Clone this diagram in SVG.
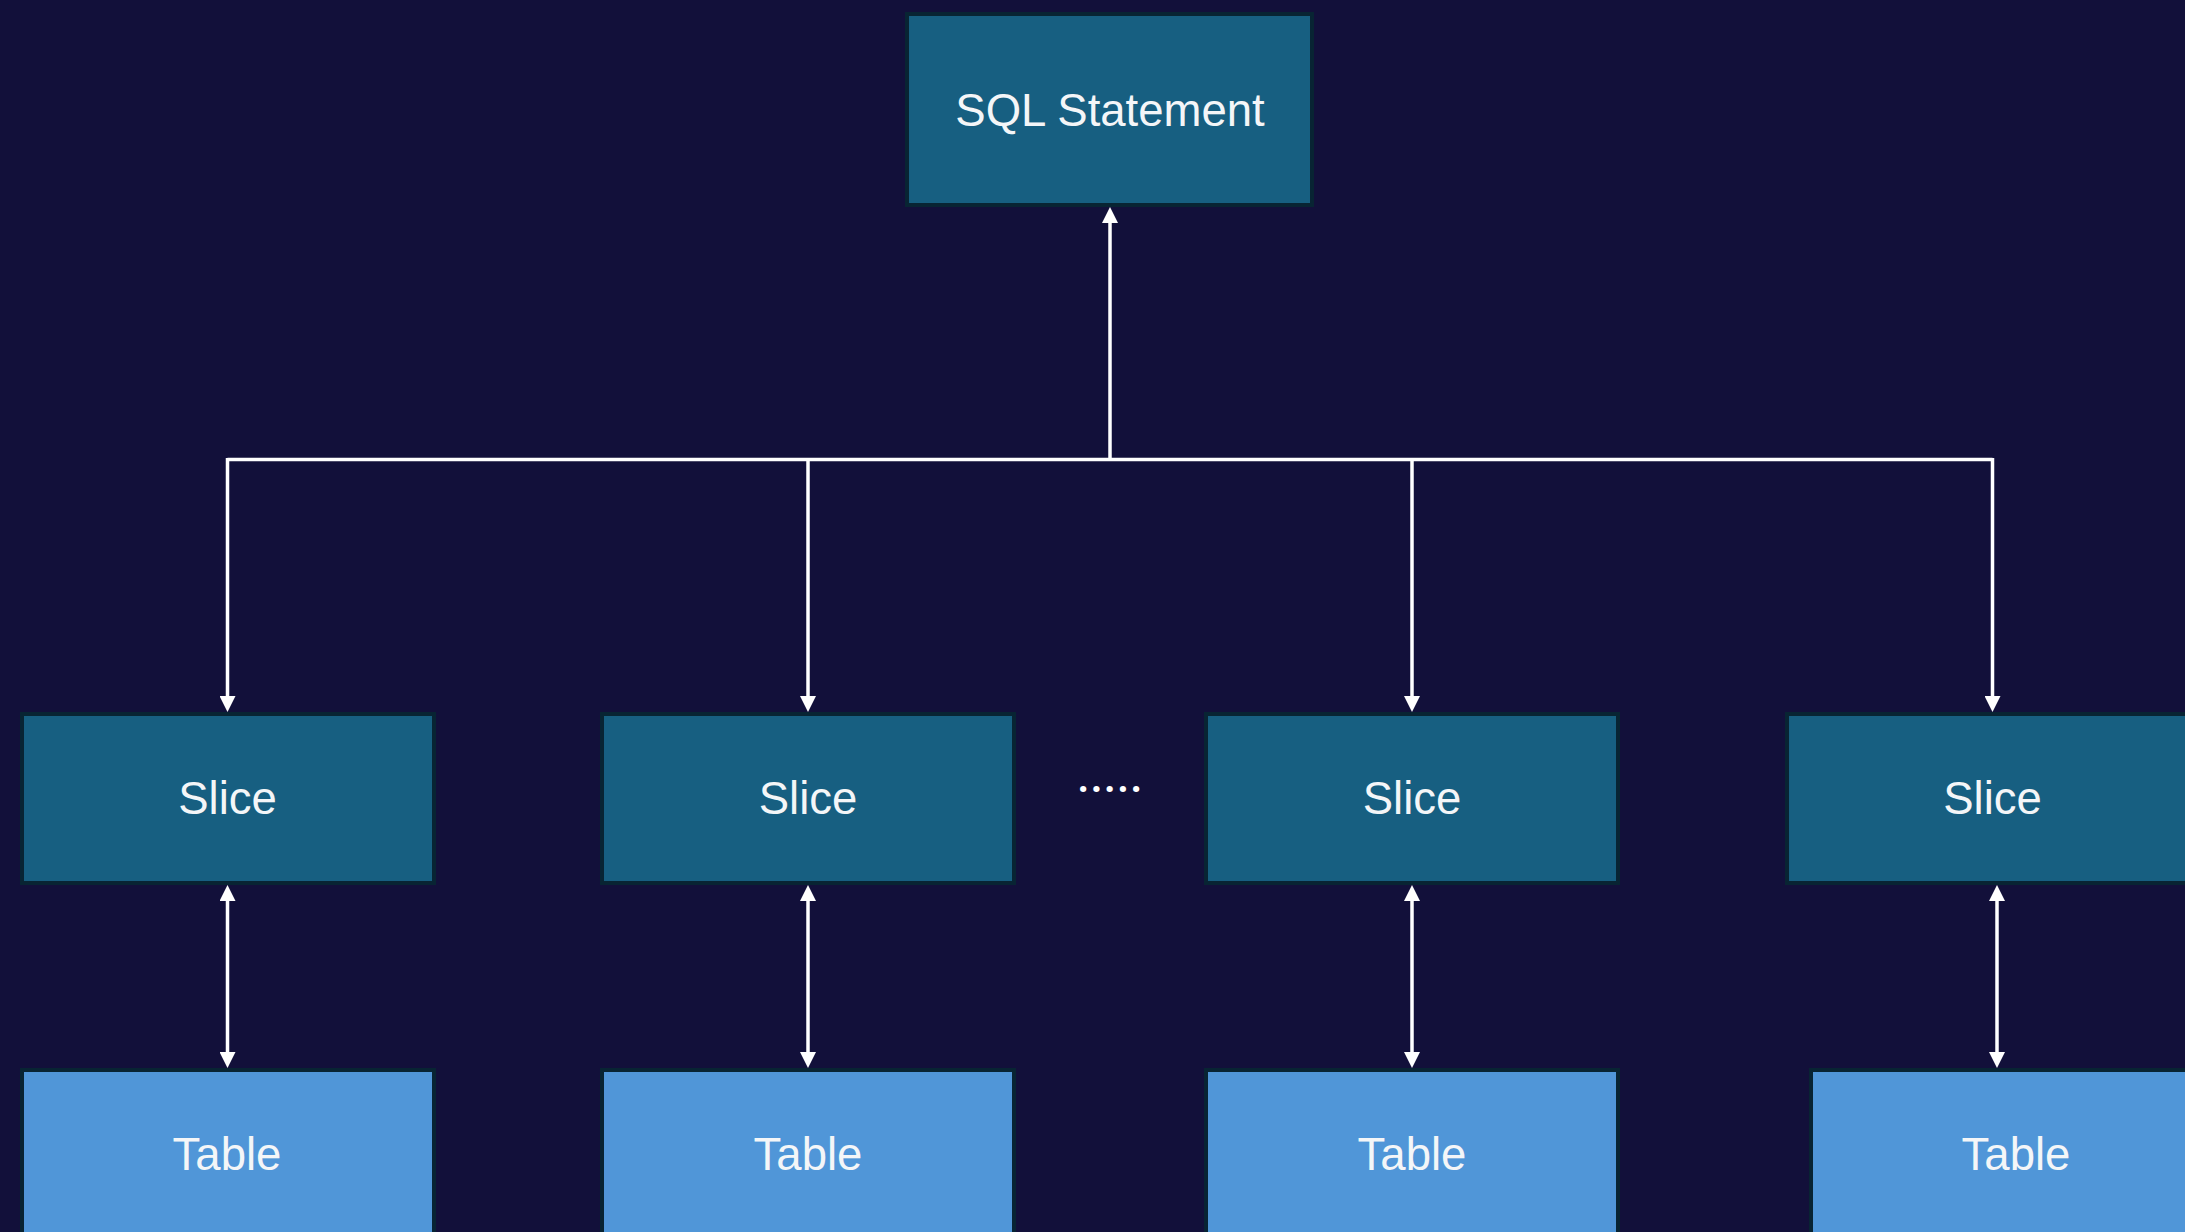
<svg xmlns="http://www.w3.org/2000/svg" width="2185" height="1232" viewBox="0 0 2185 1232">
  <style>
    .bg { fill: #12103A; }
    .slice { fill: #175F81; stroke: #082433; stroke-width: 4; }
    .table { fill: #5096D8; stroke: #082433; stroke-width: 4; }
    .sql { fill: #175F81; stroke: #082433; stroke-width: 4; }
    .label { font-family: "Liberation Sans", Arial, sans-serif; font-size: 45.5px; fill: #F4F6F8; text-anchor: middle; }
    .conn { stroke: #FFFFFF; stroke-width: 3.5; fill: none; }
    .dots { font-family: "Open Sans", "Liberation Sans", sans-serif; font-size: 36px; font-weight: bold; fill: #FFFFFF; letter-spacing: 3px; }
  </style>
  <defs>
    <marker id="arrow" markerUnits="userSpaceOnUse" markerWidth="16" markerHeight="16" refX="8" refY="8" orient="auto-start-reverse">
      <path d="M0,0 L16,8 L0,16 z" fill="#FFFFFF"/>
    </marker>
  </defs>
  <rect class="bg" x="0" y="0" width="2185" height="1232"/>

  <g id="connectors">
    <line class="conn" x1="227.5" y1="459.5" x2="1992.5" y2="459.5"/>
    <line class="conn" x1="1110" y1="461" x2="1110" y2="215" marker-end="url(#arrow)"/>
    <line class="conn" x1="227.5" y1="458" x2="227.5" y2="704" marker-end="url(#arrow)"/>
    <line class="conn" x1="808" y1="458" x2="808" y2="704" marker-end="url(#arrow)"/>
    <line class="conn" x1="1412" y1="458" x2="1412" y2="704" marker-end="url(#arrow)"/>
    <line class="conn" x1="1992.5" y1="458" x2="1992.5" y2="704" marker-end="url(#arrow)"/>
    <line class="conn" x1="227.5" y1="893" x2="227.5" y2="1060" marker-start="url(#arrow)" marker-end="url(#arrow)"/>
    <line class="conn" x1="808" y1="893" x2="808" y2="1060" marker-start="url(#arrow)" marker-end="url(#arrow)"/>
    <line class="conn" x1="1412" y1="893" x2="1412" y2="1060" marker-start="url(#arrow)" marker-end="url(#arrow)"/>
    <line class="conn" x1="1997" y1="893" x2="1997" y2="1060" marker-start="url(#arrow)" marker-end="url(#arrow)"/>
  </g>

  <g id="sql-statement">
    <rect class="sql" x="907" y="14" width="405" height="191"/>
    <text class="label" x="1110" y="126">SQL Statement</text>
  </g>

  <g id="slice-1">
    <rect class="slice" x="22" y="714" width="412" height="169"/>
    <text class="label" x="227.5" y="814">Slice</text>
  </g>
  <g id="slice-2">
    <rect class="slice" x="602" y="714" width="412" height="169"/>
    <text class="label" x="808" y="814">Slice</text>
  </g>
  <g id="slice-3">
    <rect class="slice" x="1206" y="714" width="412" height="169"/>
    <text class="label" x="1412" y="814">Slice</text>
  </g>
  <g id="slice-4">
    <rect class="slice" x="1787" y="714" width="412" height="169"/>
    <text class="label" x="1992.5" y="814">Slice</text>
  </g>

  <g id="ellipsis">
    <text class="dots" x="1078" y="792">.....</text>
  </g>

  <g id="table-1">
    <rect class="table" x="22" y="1070" width="412" height="169"/>
    <text class="label" x="227" y="1170">Table</text>
  </g>
  <g id="table-2">
    <rect class="table" x="602" y="1070" width="412" height="169"/>
    <text class="label" x="808" y="1170">Table</text>
  </g>
  <g id="table-3">
    <rect class="table" x="1206" y="1070" width="412" height="169"/>
    <text class="label" x="1412" y="1170">Table</text>
  </g>
  <g id="table-4">
    <rect class="table" x="1811" y="1070" width="412" height="169"/>
    <text class="label" x="2016" y="1170">Table</text>
  </g>
</svg>
